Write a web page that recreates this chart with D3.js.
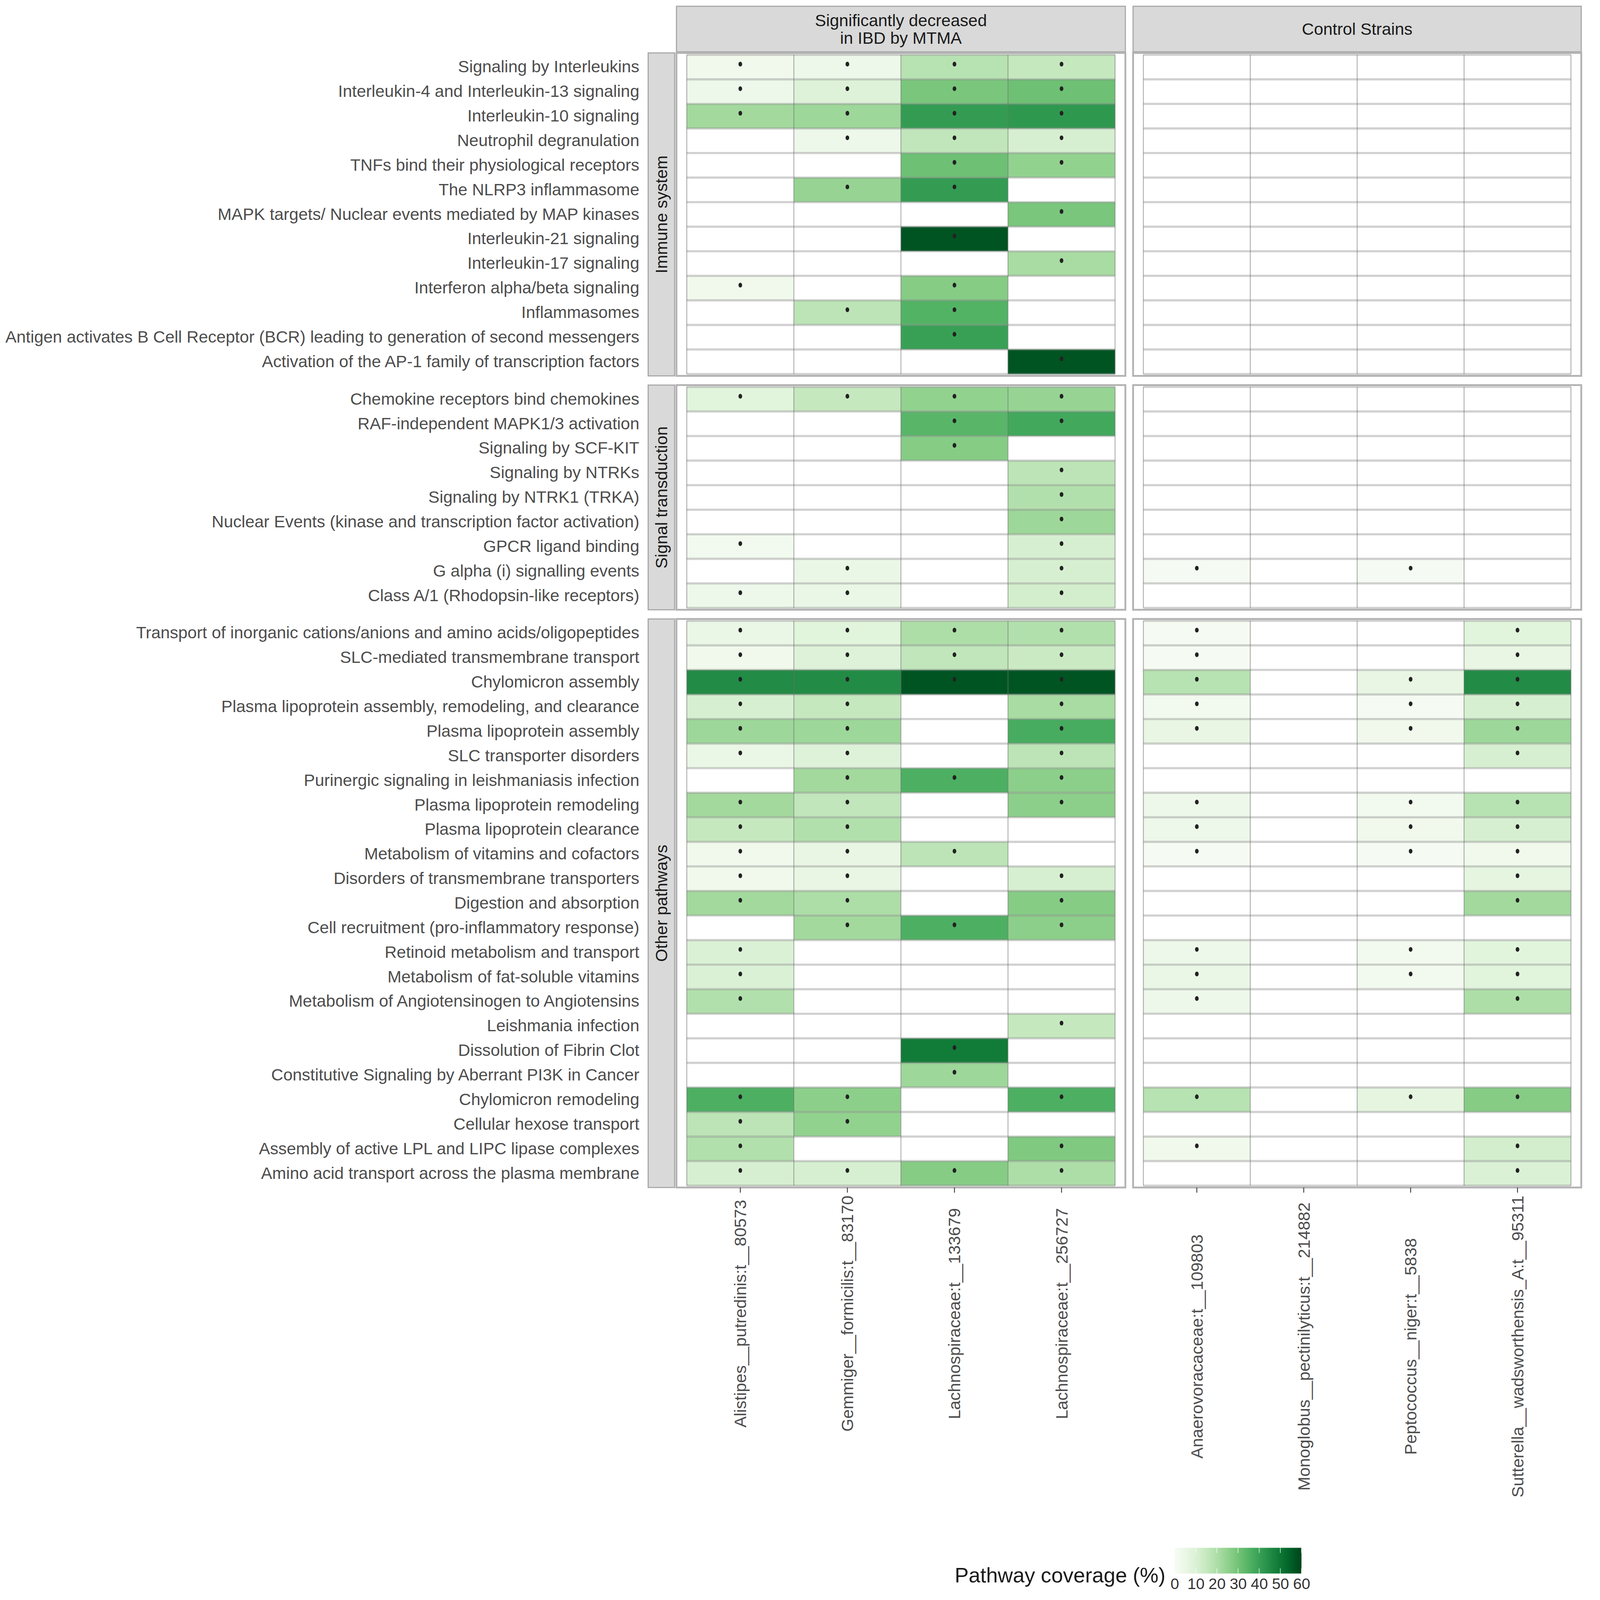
<!DOCTYPE html>
<html>
<head>
<meta charset="utf-8">
<script src="https://cdn.jsdelivr.net/npm/d3@7"></script>
<style>
  html, body { margin: 0; padding: 0; background: #fff; overflow: hidden; }
  #chart { display: block; width: 100vw; height: 100vh; }
</style>
</head>
<body>
<svg id="chart"></svg>
<script>
const W = 4317, H = 4352;

// strains (x axis), one list per column panel
const decreasedStrains = ["Alistipes__putredinis:t__80573", "Gemmiger__formicilis:t__83170",
    "Lachnospiraceae:t__133679", "Lachnospiraceae:t__256727"];
const controlStrains = ["Anaerovoracaceae:t__109803", "Monoglobus__pectinilyticus:t__214882",
    "Peptococcus__niger:t__5838", "Sutterella__wadsworthensis_A:t__95311"];
const strainGroups = [["Significantly decreased", "in IBD by MTMA"], ["Control Strains"]];
const pathwayGroups = ["Immune system", "Signal transduction", "Other pathways"];

const immunePathways = ["Signaling by Interleukins", "Interleukin-4 and Interleukin-13 signaling",
    "Interleukin-10 signaling", "Neutrophil degranulation", "TNFs bind their physiological receptors",
    "The NLRP3 inflammasome", "MAPK targets/ Nuclear events mediated by MAP kinases",
    "Interleukin-21 signaling", "Interleukin-17 signaling", "Interferon alpha/beta signaling",
    "Inflammasomes", "Antigen activates B Cell Receptor (BCR) leading to generation of second messengers",
    "Activation of the AP-1 family of transcription factors"];
const signalPathways = ["Chemokine receptors bind chemokines", "RAF-independent MAPK1/3 activation",
    "Signaling by SCF-KIT", "Signaling by NTRKs", "Signaling by NTRK1 (TRKA)",
    "Nuclear Events (kinase and transcription factor activation)", "GPCR ligand binding",
    "G alpha (i) signalling events", "Class A/1 (Rhodopsin-like receptors)"];
const otherPathways = ["Transport of inorganic cations/anions and amino acids/oligopeptides",
    "SLC-mediated transmembrane transport", "Chylomicron assembly",
    "Plasma lipoprotein assembly, remodeling, and clearance", "Plasma lipoprotein assembly",
    "SLC transporter disorders", "Purinergic signaling in leishmaniasis infection",
    "Plasma lipoprotein remodeling", "Plasma lipoprotein clearance", "Metabolism of vitamins and cofactors",
    "Disorders of transmembrane transporters", "Digestion and absorption",
    "Cell recruitment (pro-inflammatory response)", "Retinoid metabolism and transport",
    "Metabolism of fat-soluble vitamins", "Metabolism of Angiotensinogen to Angiotensins",
    "Leishmania infection", "Dissolution of Fibrin Clot", "Constitutive Signaling by Aberrant PI3K in Cancer",
    "Chylomicron remodeling", "Cellular hexose transport", "Assembly of active LPL and LIPC lipase complexes",
    "Amino acid transport across the plasma membrane"];

// pathway coverage (%): 4 decreased strains then 4 control strains, null = not covered
const n = null;
const immuneCoverage = [
    [3, 4, 18, 15, n, n, n, n],
    [4, 9, 29, 31, n, n, n, n],
    [22, 23, 41, 42, n, n, n, n],
    [n, 4, 16, 11, n, n, n, n],
    [n, n, 31, 25, n, n, n, n],
    [n, 24, 41, n, n, n, n, n],
    [n, n, n, 29, n, n, n, n],
    [n, n, 57, n, n, n, n, n],
    [n, n, n, 21, n, n, n, n],
    [3, n, 27, n, n, n, n, n],
    [n, 17, 35, n, n, n, n, n],
    [n, n, 40, n, n, n, n, n],
    [n, n, n, 57, n, n, n, n]
];
const signalCoverage = [
    [8, 15, 25, 24, n, n, n, n],
    [n, n, 34, 38, n, n, n, n],
    [n, n, 27, n, n, n, n, n],
    [n, n, n, 17, n, n, n, n],
    [n, n, n, 19, n, n, n, n],
    [n, n, n, 23, n, n, n, n],
    [2, n, n, 11, n, n, n, n],
    [n, 5, n, 11, 1, n, 1, n],
    [4, 5, n, 12, n, n, n, n]
];
const otherCoverage = [
    [5, 8, 20, 19, 1, n, n, 8],
    [3, 9, 16, 14, 1, n, n, 6],
    [45, 45, 57, 57, 18, n, 6, 45],
    [11, 15, n, 21, 2, n, 1, 11],
    [23, 23, n, 37, 6, n, 3, 23],
    [5, 9, n, 17, n, n, n, 11],
    [n, 22, 36, 26, n, n, n, n],
    [22, 16, n, 26, 4, n, 2, 18],
    [15, 19, n, n, 4, n, 3, 11],
    [3, 6, 17, n, 1, n, 1, 3],
    [3, 6, n, 11, n, n, n, 7],
    [22, 20, n, 27, n, n, n, 22],
    [n, 22, 36, 26, n, n, n, n],
    [10, n, n, n, 4, n, 2, 8],
    [10, n, n, n, 5, n, 2, 8],
    [19, n, n, n, 4, n, n, 20],
    [n, n, n, 15, n, n, n, n],
    [n, n, 49, n, n, n, n, n],
    [n, n, 23, n, n, n, n, n],
    [36, 26, n, 36, 18, n, 7, 27],
    [17, 25, n, n, n, n, n, n],
    [19, n, n, 28, 3, n, n, 12],
    [11, 11, 27, 20, n, n, n, 10]
];
const legendTicks = [0, 10, 20, 30, 40, 50, 60];

const font = "'Liberation Sans', Arial, Helvetica, sans-serif";
const textSize = 45.5;
const svg = d3.select("#chart")
    .attr("viewBox", `0 0 ${W} ${H}`)
    .attr("preserveAspectRatio", "xMinYMin meet")
    .style("font-family", font);
svg.append("rect").attr("width", W).attr("height", H).attr("fill", "#fff");

const color = d3.scaleSequential(d3.interpolateGreens).domain([0, 60]);

const rowH = 66.8, padY = 5, padX = 28, gapY = 25;
const facets = [
    {name: pathwayGroups[0], rows: immunePathways, values: immuneCoverage},
    {name: pathwayGroups[1], rows: signalPathways, values: signalCoverage},
    {name: pathwayGroups[2], rows: otherPathways, values: otherCoverage}
];
const panels = [
    {strains: decreasedStrains, title: strainGroups[0], x0: 1840, x1: 3061, offset: 0},
    {strains: controlStrains, title: strainGroups[1], x0: 3082, x1: 4301, offset: 4}
];

let yCursor = 144;
facets.forEach(f => {
    f.top = yCursor;
    f.bottom = yCursor + f.rows.length * rowH + 2 * padY;
    f.y = d3.scaleBand().domain(f.rows).range([f.top + padY, f.bottom - padY]);
    yCursor = f.bottom + gapY;
});
panels.forEach(p => {
    p.x = d3.scaleBand().domain(p.strains).range([p.x0 + padX, p.x1 - padX]);
});

// column strips
panels.forEach(p => {
    const g = svg.append("g");
    g.append("rect").attr("x", p.x0).attr("y", 17).attr("width", p.x1 - p.x0).attr("height", 124)
        .attr("fill", "#d9d9d9").attr("stroke", "#a6a6a6").attr("stroke-width", 3);
    const mid = (p.x0 + p.x1) / 2;
    const lineH = 48;
    const y0 = 79 - (p.title.length - 1) * lineH / 2;
    g.selectAll("text").data(p.title).join("text")
        .attr("x", mid).attr("y", (d, i) => y0 + i * lineH)
        .attr("dy", "0.35em").attr("text-anchor", "middle")
        .attr("font-size", textSize).attr("fill", "#1a1a1a").text(d => d);
});

// row strips, panels, cells
facets.forEach(f => {
    svg.append("rect").attr("x", 1763).attr("y", f.top).attr("width", 72).attr("height", f.bottom - f.top)
        .attr("fill", "#d9d9d9").attr("stroke", "#a6a6a6").attr("stroke-width", 3);
    svg.append("text")
        .attr("transform", `translate(${1799},${(f.top + f.bottom) / 2}) rotate(-90)`)
        .attr("dy", "0.35em").attr("text-anchor", "middle")
        .attr("font-size", textSize).attr("fill", "#1a1a1a").text(f.name);

    panels.forEach(p => {
        const g = svg.append("g");
        g.append("rect").attr("x", p.x0).attr("y", f.top).attr("width", p.x1 - p.x0)
            .attr("height", f.bottom - f.top).attr("fill", "#fff");

        const cells = [];
        f.rows.forEach((r, i) => p.strains.forEach((s, j) => {
            cells.push({row: r, strain: s, value: f.values[i][p.offset + j]});
        }));

        g.selectAll("rect.cell").data(cells).join("rect").attr("class", "cell")
            .attr("x", d => p.x(d.strain)).attr("y", d => f.y(d.row))
            .attr("width", p.x.bandwidth()).attr("height", f.y.bandwidth())
            .attr("fill", d => d.value == null ? "#fff" : color(d.value));

        const [tx0, tx1] = p.x.range();
        const [ty0, ty1] = f.y.range();
        const rowEdges = f.rows.map(r => f.y(r)).concat([ty1]);
        const colEdges = p.strains.map(s => p.x(s)).concat([tx1]);
        g.selectAll("line.h").data(rowEdges).join("line").attr("class", "h")
            .attr("x1", tx0).attr("x2", tx1).attr("y1", d => d).attr("y2", d => d)
            .attr("stroke", "rgba(140,140,140,0.4)").attr("stroke-width", 6);
        g.selectAll("line.v").data(colEdges).join("line").attr("class", "v")
            .attr("x1", d => d).attr("x2", d => d).attr("y1", ty0).attr("y2", ty1)
            .attr("stroke", "rgba(100,100,100,0.5)").attr("stroke-width", 2.5);

        g.selectAll("ellipse").data(cells.filter(d => d.value != null)).join("ellipse")
            .attr("cx", d => p.x(d.strain) + p.x.bandwidth() / 2)
            .attr("cy", d => f.y(d.row) + f.y.bandwidth() / 2 - 8)
            .attr("rx", 5).attr("ry", 6.5).attr("fill", "#222");

        g.append("rect").attr("x", p.x0).attr("y", f.top).attr("width", p.x1 - p.x0)
            .attr("height", f.bottom - f.top).attr("fill", "none")
            .attr("stroke", "#b3b3b3").attr("stroke-width", 5);
    });

    // pathway labels
    const ax = svg.append("g").attr("transform", "translate(1744,0)")
        .call(d3.axisLeft(f.y).tickSize(0).tickPadding(5));
    ax.select(".domain").remove();
    ax.selectAll("text").attr("font-size", textSize).attr("font-family", font).attr("fill", "#4d4d4d");
});

// strain labels, centred within each panel's own axis
const lastBottom = facets[facets.length - 1].bottom;
panels.forEach(p => {
    const ax = svg.append("g").attr("transform", `translate(0,${lastBottom})`)
        .call(d3.axisBottom(p.x).tickSize(14).tickPadding(8));
    ax.select(".domain").remove();
    ax.selectAll(".tick line").attr("stroke", "#444").attr("stroke-width", 2.5);
    const labels = ax.selectAll("text").attr("font-size", textSize).attr("font-family", font).attr("fill", "#4d4d4d");
    const maxLen = d3.max(labels.nodes(), node => node.getComputedTextLength());
    labels.attr("y", null).attr("dy", "0.35em").attr("text-anchor", "middle")
        .attr("transform", `translate(0,${22 + maxLen / 2}) rotate(-90)`);
});

// colour bar legend
const legendX = d3.scaleLinear().domain([0, 60]).range([3195, 3540]);
const barY = 4210, barH = 70;
const grad = svg.append("defs").append("linearGradient").attr("id", "cov");
grad.selectAll("stop").data(d3.range(0, 1.0001, 0.05)).join("stop")
    .attr("offset", d => d).attr("stop-color", d => color(d * 60));
svg.append("rect").attr("x", legendX(0)).attr("y", barY)
    .attr("width", legendX(60) - legendX(0)).attr("height", barH).attr("fill", "url(#cov)");
const lt = svg.append("g");
legendTicks.forEach(t => {
    lt.append("line").attr("x1", legendX(t)).attr("x2", legendX(t)).attr("y1", barY).attr("y2", barY + 14)
        .attr("stroke", "#fff").attr("stroke-opacity", 0.7).attr("stroke-width", 2);
    lt.append("line").attr("x1", legendX(t)).attr("x2", legendX(t)).attr("y1", barY + barH - 14).attr("y2", barY + barH)
        .attr("stroke", "#fff").attr("stroke-opacity", 0.7).attr("stroke-width", 2);
});
const lax = svg.append("g").attr("transform", `translate(0,${barY + barH})`)
    .call(d3.axisBottom(legendX).tickValues(legendTicks).tickSize(0).tickPadding(12));
lax.select(".domain").remove();
lax.selectAll("text").attr("font-size", 42).attr("font-family", font).attr("fill", "#333");
svg.append("text").attr("x", 3170).attr("y", 4304).attr("text-anchor", "end")
    .attr("font-size", 57).attr("fill", "#1a1a1a").text("Pathway coverage (%)");
</script>
</body>
</html>
